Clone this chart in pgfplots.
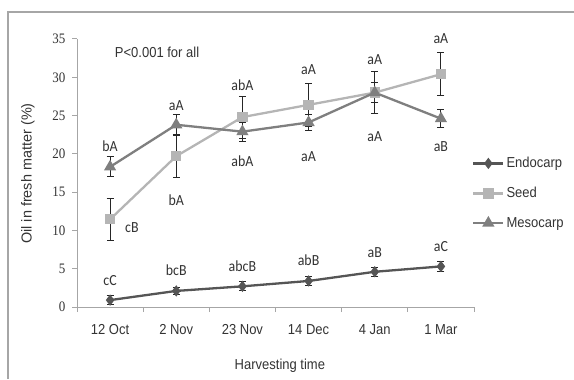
\documentclass[border=0pt]{standalone}
\usepackage{pgfplots}
\pgfplotsset{compat=1.18}
\usepackage{fontspec}
\setmainfont{Liberation Sans}[FakeStretch=0.9]
\newfontfamily\ylabfont{Liberation Sans}
\newfontfamily\serifnum{Liberation Serif}[FakeStretch=0.9]
\newfontfamily\calfont{Carlito}[FakeStretch=0.9]
\definecolor{endo}{HTML}{555555}
\definecolor{seed}{HTML}{B5B5B5}
\definecolor{meso}{HTML}{7F7F7F}
\definecolor{axgray}{HTML}{A6A6A6}
\definecolor{txt}{HTML}{333333}

\pgfplotstableread{
x y e
0 0.9 0.6
1 2.1 0.5
2 2.7 0.6
3 3.4 0.6
4 4.6 0.6
5 5.3 0.6
}\endotab
\pgfplotstableread{
x y e
0 11.45 2.75
1 19.7 2.8
2 24.8 2.75
3 26.4 2.8
4 28.0 2.7
5 30.4 2.8
}\seedtab
\pgfplotstableread{
x y e
0 18.3 1.3
1 23.8 1.4
2 22.9 1.25
3 24.1 1.0
4 28.0 1.3
5 24.6 1.2
}\mesotab

\begin{document}
\begin{tikzpicture}[x=1bp,y=1bp]
\useasboundingbox (0,0) rectangle (574,379);
\draw[color=axgray, line width=1.2bp] (8,0) -- (8,367) -- (574,367);
\begin{axis}[at={(77bp,72bp)}, anchor=south west, scale only axis,
  width=397bp, height=268bp,
  xmin=-0.5, xmax=5.5, ymin=0, ymax=35,
  axis x line*=bottom, axis y line*=left,
  axis line style={axgray, line width=1bp, -},
  xtick={0,...,5}, xticklabels={12 Oct, 2 Nov, 23 Nov, 14 Dec, 4 Jan, 1 Mar},
  minor xtick={-0.5,0.5,...,5.5},
  ytick={0,5,...,35},
  tick align=outside,
  major tick length=5bp, minor tick length=5bp,
  major x tick style={draw=none},
  tick style={axgray, line width=1bp},
  /pgf/number format/assume math mode=true,
  xticklabel style={font=\fontsize{14.5}{14.5}\selectfont, text=txt, yshift=-9bp},
  yticklabel style={font=\serifnum\fontsize{14.5}{14.5}\selectfont, text=txt, xshift=-3bp},
  xlabel={Harvesting time},
  ylabel={Oil in fresh matter (\%)},
  xlabel style={font=\fontsize{14.5}{14.5}\selectfont, text=txt, at={(axis description cs:0.511,-0.22)}, anchor=center},
  ylabel style={font=\ylabfont\fontsize{14.5}{14.5}\selectfont, text=txt, at={(axis description cs:-0.1234,0.498)}, anchor=center},
  legend style={at={(axis description cs:0.995,0.425)}, anchor=west, draw=none, fill=none,
    font=\fontsize{14.5}{14.5}\selectfont, text=txt, row sep=14bp, inner xsep=0pt, cells={anchor=west}},
  legend image code/.code={\draw[mark repeat=2,mark phase=2] plot coordinates {(0bp,0bp) (15bp,0bp) (30bp,0bp)};},
  clip=false,
  error bars/y dir=both, error bars/y explicit,
  error bars/error bar style={black!85, line width=1bp},
  error bars/error mark options={rotate=90, black!85, mark size=3.5bp, line width=1bp},
]
\addplot[endo, line width=2.3bp, mark=diamond*, mark size=3.8bp, mark options={fill=endo, draw=endo}]
  table[x=x, y=y, y error=e] {\endotab};
\addlegendentry{Endocarp}
\addplot[seed, line width=2.3bp, mark=square*, mark size=4bp, mark options={fill=seed, draw=seed}]
  table[x=x, y=y, y error=e] {\seedtab};
\addlegendentry{Seed}
\addplot[meso, line width=2.3bp, mark=triangle*, mark size=4.8bp, mark options={fill=meso, draw=meso}]
  table[x=x, y=y, y error=e] {\mesotab};
\addlegendentry{Mesocarp}

\begin{scope}[every node/.style={font=\calfont\fontsize{15.5}{15.5}\selectfont, text=txt}]
% Mesocarp
\node at (axis cs:0,21.0) {bA};
\node at (axis cs:1,26.3) {aA};
\node at (axis cs:2,19.1) {abA};
\node at (axis cs:3,19.7) {aA};
\node at (axis cs:4,22.3) {aA};
\node at (axis cs:5,20.9) {aB};
% Seed
\node at (axis cs:0.33,10.4) {cB};
\node at (axis cs:1,14.0) {bA};
\node at (axis cs:2,29.0) {abA};
\node at (axis cs:3,31.0) {aA};
\node at (axis cs:4,32.3) {aA};
\node at (axis cs:5,35.0) {aA};
% Endocarp
\node at (axis cs:0,3.5) {cC};
\node at (axis cs:1,4.75) {bcB};
\node at (axis cs:2,5.35) {abcB};
\node at (axis cs:3,6.05) {abB};
\node at (axis cs:4,7.1) {aB};
\node at (axis cs:5,7.95) {aC};
\end{scope}
\node[font=\fontsize{14.5}{14.5}\selectfont, text=txt] at (axis cs:0.71,33.3) {P<0.001 for all};
\end{axis}
\end{tikzpicture}
\end{document}
